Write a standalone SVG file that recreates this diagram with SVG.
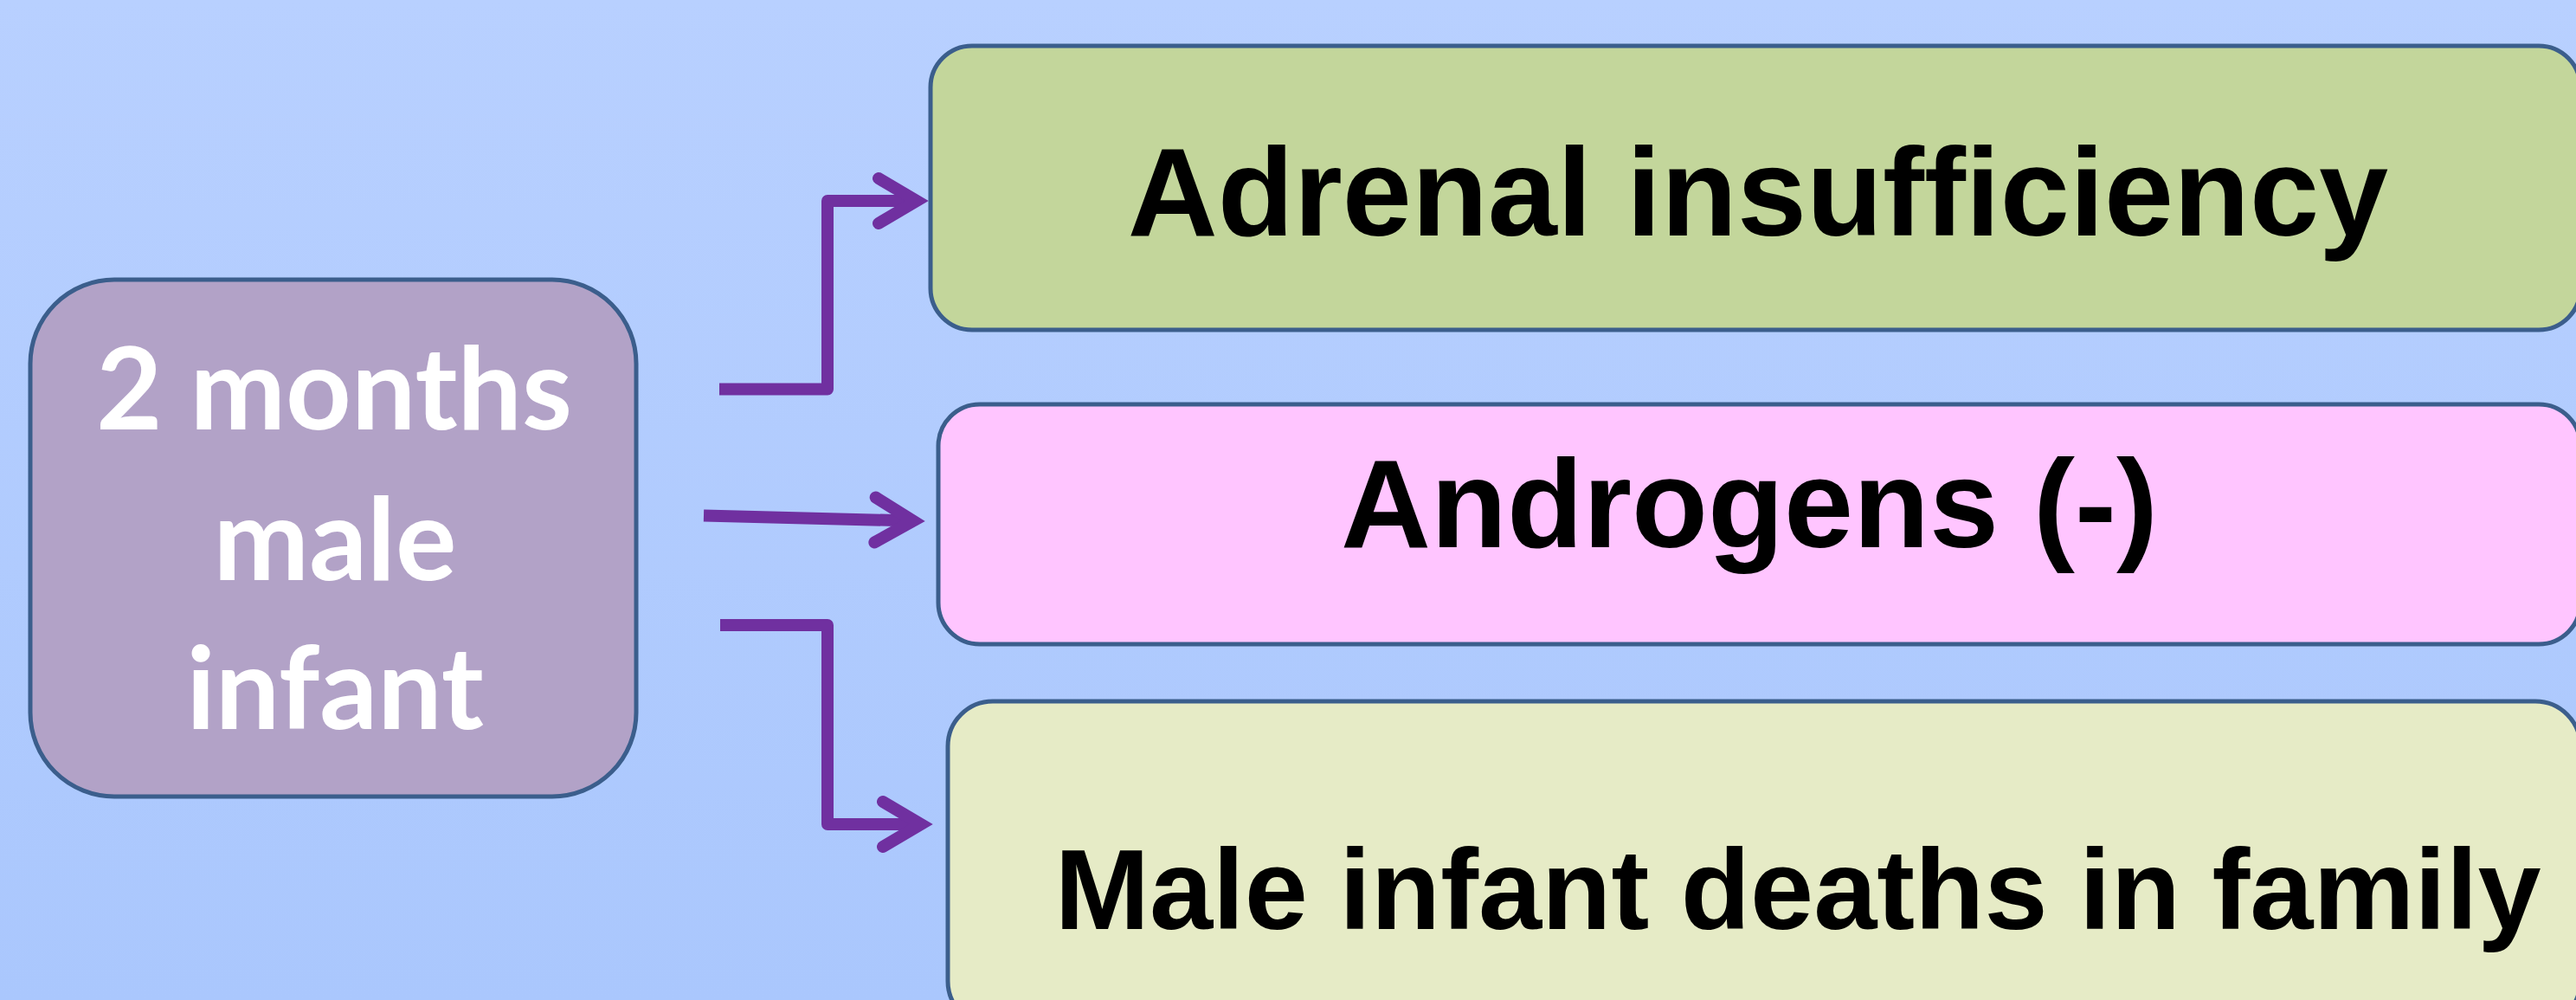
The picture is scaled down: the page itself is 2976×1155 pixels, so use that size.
<svg xmlns="http://www.w3.org/2000/svg" width="2976" height="1155" viewBox="0 0 2976 1155">
  <defs>
    <linearGradient id="bg" x1="0" y1="0" x2="0" y2="1">
      <stop offset="0" stop-color="#B8D0FF"/>
      <stop offset="1" stop-color="#AAC7FD"/>
    </linearGradient>
    <marker id="arrow" markerUnits="userSpaceOnUse" markerWidth="90" markerHeight="90" viewBox="-75 -45 90 90" refX="-14" refY="0" orient="auto" overflow="visible">
      <path d="M-58,-26 L-14,0 L-58,26" fill="none" stroke="#7030A0" stroke-width="14" stroke-linecap="round" stroke-linejoin="miter" stroke-miterlimit="10"/>
    </marker>
  </defs>
  <style>
    .box { stroke: #3B5E8C; stroke-width: 5; }
    .lbl { font-family: "Liberation Sans", Arial, sans-serif; font-weight: bold; fill: #000; text-anchor: middle; }
    .src { font-family: Lato, "Open Sans", sans-serif; font-weight: bold; fill: #FFFFFF; text-anchor: middle; font-size: 132px; }
    .conn { fill: none; stroke: #7030A0; stroke-width: 14; stroke-linejoin: round; stroke-linecap: butt; }
  </style>
  <rect x="0" y="0" width="2976" height="1155" fill="url(#bg)"/>

  <g id="connectors">
    <path class="conn" d="M831,449.5 H956 V232 H1059" marker-end="url(#arrow)"/>
    <path class="conn" d="M813,595.5 L1055,601.6" marker-end="url(#arrow)"/>
    <path class="conn" d="M832,722 H956 V952 H1064" marker-end="url(#arrow)"/>
  </g>

  <g id="node-infant">
    <rect class="box" x="35" y="323" width="700" height="597" rx="97" ry="97" fill="#B2A2C7"/>
    <text class="src" x="386" y="496">2 months</text>
    <text class="src" x="387" y="670">male</text>
    <text class="src" x="387" y="842">infant</text>
  </g>

  <g id="node-adrenal">
    <rect class="box" x="1075" y="53" width="1906" height="328" rx="48" ry="48" fill="#C3D69B"/>
    <text class="lbl" x="2031" y="272" font-size="144">Adrenal insufficiency</text>
  </g>

  <g id="node-androgens">
    <rect class="box" x="1084" y="467" width="1897" height="277" rx="48" ry="48" fill="#FFC5FF"/>
    <text class="lbl" x="2021" y="632" font-size="144">Androgens (-)</text>
  </g>

  <g id="node-deaths">
    <rect class="box" x="1095" y="810" width="1886" height="375" rx="52" ry="52" fill="#E6EBC6"/>
    <text class="lbl" x="2077" y="1073" font-size="131.5">Male infant deaths in family</text>
  </g>
</svg>
